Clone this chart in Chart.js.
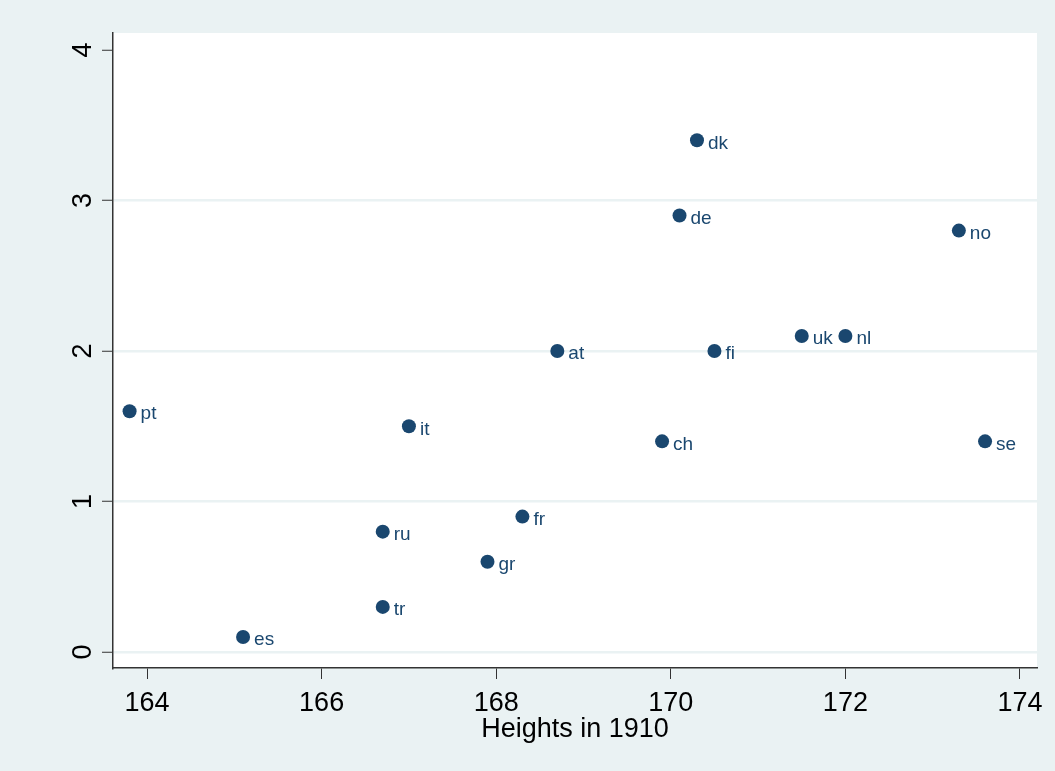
<!DOCTYPE html>
<html>
<head>
<meta charset="utf-8">
<script src="https://cdn.jsdelivr.net/npm/chart.js@4/dist/chart.umd.min.js"></script>
<style>
  html, body { margin: 0; padding: 0; background: #eaf2f3; }
  #wrap { width: 1055px; height: 771px; }
</style>
</head>
<body>
<div id="wrap"><canvas id="heightChart" width="1055" height="771"></canvas></div>
<script>
// country codes and values
const countries = ['pt', 'es', 'ru', 'tr', 'it', 'gr', 'fr', 'at', 'ch', 'de', 'dk', 'fi', 'uk', 'nl', 'no', 'se'];
const heights1910 = [163.8, 165.1, 166.7, 166.7, 167.0, 167.9, 168.3, 168.7, 169.9, 170.1, 170.3, 170.5, 171.5, 172.0, 173.3, 173.6];
const yValues = [1.6, 0.1, 0.8, 0.3, 1.5, 0.6, 0.9, 2.0, 1.4, 2.9, 3.4, 2.0, 2.1, 2.1, 2.8, 1.4];
const xTicks = [164, 166, 168, 170, 172, 174];
const yTicks = [0, 1, 2, 3, 4];

const navy = '#1a476f';
const axisFont = { family: 'Liberation Sans, Arial, sans-serif', size: 27 };

const points = heights1910.map((h, i) => ({ x: h, y: yValues[i] }));

// page bg + white plot region
const backgroundPlugin = {
    id: 'background',
    beforeDraw(chart) {
        const { ctx, chartArea } = chart;
        ctx.save();
        ctx.fillStyle = '#eaf2f3';
        ctx.fillRect(0, 0, chart.width, chart.height);
        ctx.fillStyle = '#ffffff';
        ctx.fillRect(chartArea.left, chartArea.top, chartArea.right - chartArea.left, chartArea.bottom - chartArea.top);
        ctx.restore();
    }
};

// rotated y tick labels, Stata style
const yLabelsPlugin = {
    id: 'yLabels',
    afterDraw(chart) {
        const { ctx } = chart;
        const yScale = chart.scales.y;
        ctx.save();
        ctx.fillStyle = '#000';
        ctx.font = axisFont.size + 'px ' + axisFont.family;
        ctx.textAlign = 'center';
        ctx.textBaseline = 'middle';
        yTicks.forEach(v => {
            const py = yScale.getPixelForValue(v);
            ctx.save();
            ctx.translate(84, py);
            ctx.rotate(-Math.PI / 2);
            ctx.fillText(String(v), 0, 0);
            ctx.restore();
        });
        ctx.restore();
    }
};

// marker labels to the right of each point
const pointLabelsPlugin = {
    id: 'pointLabels',
    afterDatasetsDraw(chart) {
        const { ctx } = chart;
        const meta = chart.getDatasetMeta(0);
        ctx.save();
        ctx.fillStyle = navy;
        ctx.font = '19px Liberation Sans, Arial, sans-serif';
        ctx.textAlign = 'left';
        ctx.textBaseline = 'middle';
        meta.data.forEach((el, i) => {
            ctx.fillText(countries[i], el.x + 11, el.y + 3);
        });
        ctx.restore();
    }
};

const ctx = document.getElementById('heightChart').getContext('2d');
new Chart(ctx, {
    type: 'scatter',
    data: {
        datasets: [{
            label: 'countries',
            data: points,
            backgroundColor: navy,
            borderColor: navy,
            pointRadius: 7,
            pointHoverRadius: 7,
            borderWidth: 0
        }]
    },
    options: {
        responsive: false,
        animation: false,
        events: [],
        layout: { padding: { top: 33, right: 18, left: 0, bottom: 0 } },
        plugins: {
            legend: { display: false },
            tooltip: { enabled: false }
        },
        scales: {
            x: {
                type: 'linear',
                min: 163.61,
                max: 174.195,
                afterBuildTicks: scale => { scale.ticks = xTicks.map(v => ({ value: v })); },
                afterFit: scale => { scale.height = 103; },
                ticks: {
                    color: '#000',
                    font: axisFont,
                    padding: 8,
                    maxRotation: 0,
                    callback: v => String(v)
                },
                grid: {
                    drawOnChartArea: false,
                    tickLength: 11,
                    tickColor: '#333',
                    tickWidth: 1
                },
                border: { color: '#333', width: 1.5 },
                title: {
                    display: true,
                    text: 'Heights in 1910',
                    color: '#000',
                    font: axisFont,
                    padding: { top: 0, bottom: 25 }
                }
            },
            y: {
                type: 'linear',
                min: -0.106,
                max: 4.113,
                afterBuildTicks: scale => { scale.ticks = yTicks.map(v => ({ value: v })); },
                afterFit: scale => { scale.width = 113; },
                ticks: { display: false },
                grid: {
                    color: c => (c.tick && c.tick.value === 4) ? 'rgba(0,0,0,0)' : '#eaf2f3',
                    lineWidth: 2.5,
                    tickLength: 11,
                    tickColor: '#333',
                    tickWidth: 1
                },
                border: { color: '#333', width: 1.5 }
            }
        }
    },
    plugins: [backgroundPlugin, yLabelsPlugin, pointLabelsPlugin]
});
</script>
</body>
</html>
